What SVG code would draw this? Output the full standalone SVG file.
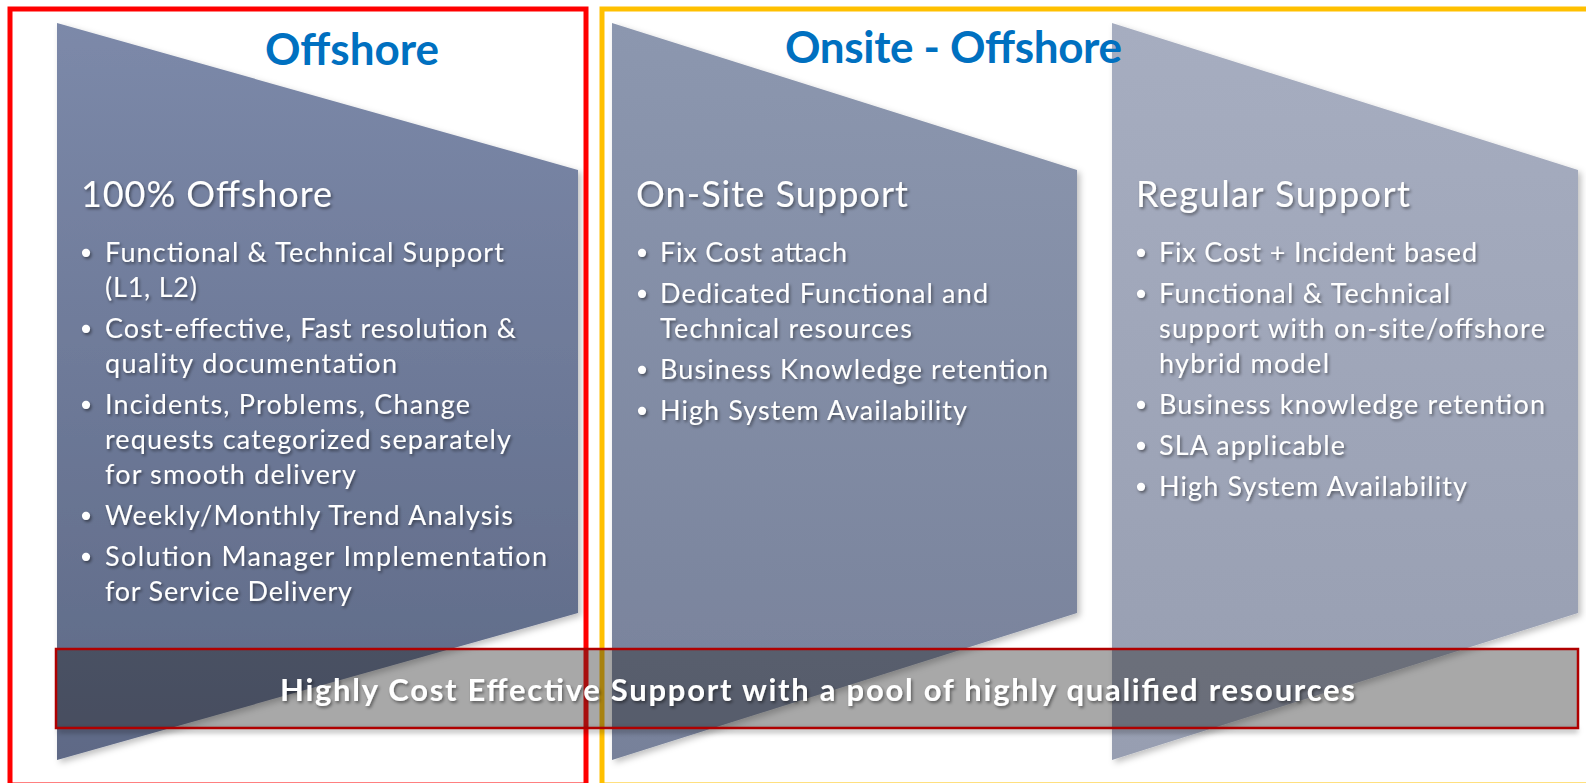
<svg xmlns="http://www.w3.org/2000/svg" width="1586" height="783" viewBox="0 0 1586 783">
  <defs>
    <linearGradient id="gLeft" x1="0" y1="0" x2="0" y2="1">
      <stop offset="0" stop-color="#7c89a9"/>
      <stop offset="1" stop-color="#5e6986"/>
    </linearGradient>
    <linearGradient id="gMid" x1="0" y1="0" x2="0" y2="1">
      <stop offset="0" stop-color="#8c97af"/>
      <stop offset="1" stop-color="#77819a"/>
    </linearGradient>
    <linearGradient id="gRight" x1="0" y1="0" x2="0" y2="1">
      <stop offset="0" stop-color="#a6adc0"/>
      <stop offset="1" stop-color="#979eb1"/>
    </linearGradient>
    <filter id="shapeShadow" x="-5%" y="-5%" width="115%" height="115%">
      <feDropShadow dx="3" dy="3" stdDeviation="3" flood-color="#000" flood-opacity="0.25"/>
    </filter>
    <filter id="textShadow" x="-5%" y="-20%" width="110%" height="150%">
      <feDropShadow dx="1.5" dy="2" stdDeviation="1.5" flood-color="#000" flood-opacity="0.45"/>
    </filter>
    <filter id="blur3" x="-5%" y="-100%" width="110%" height="300%">
      <feGaussianBlur stdDeviation="2.5"/>
    </filter>
  </defs>
  <style>
    .title { font-family: Lato, "Liberation Sans", sans-serif; font-weight: bold; font-size: 44px; fill: #0070c0; }
    .head { font-family: Lato, "Liberation Sans", sans-serif; font-size: 36px; fill: #ffffff; filter: url(#textShadow); }
    .body { font-family: Lato, "Liberation Sans", sans-serif; font-size: 27px; fill: #ffffff; filter: url(#textShadow); }
    .bul { font-family: "DejaVu Sans", sans-serif; font-size: 28px; fill: #ffffff; text-anchor: middle; filter: url(#textShadow); }
    .banner { font-family: Lato, "Liberation Sans", sans-serif; font-weight: bold; font-size: 31px; fill: #ffffff; filter: url(#textShadow); }
    .frame { fill: none; stroke-width: 5; }
  </style>
  <rect width="1586" height="783" fill="#ffffff"/>

  <g id="shapes">
    <polygon id="shape-offshore" points="57,23 578,170 578,613 57,760" fill="url(#gLeft)" filter="url(#shapeShadow)"/>
    <polygon id="shape-onsite" points="612,23 1077,170 1077,613 612,760" fill="url(#gMid)" filter="url(#shapeShadow)"/>
    <polygon id="shape-regular" points="1112,23 1578,170 1578,613 1112,760" fill="url(#gRight)" filter="url(#shapeShadow)"/>
  </g>

  <g id="frames">
    <rect id="frame-offshore" class="frame" x="10" y="9" width="576" height="776" stroke="#ff0000"/>
    <rect id="frame-onsite-offshore" class="frame" x="602" y="9" width="992" height="776" stroke="#ffc000"/>
  </g>

  <g id="titles">
    <text class="title" x="265" y="65" textLength="174">Offshore</text>
    <text class="title" x="785" y="63" textLength="337">Onsite - Offshore</text>
  </g>

  <g id="node-offshore">
    <text class="head" x="81" y="207" textLength="251">100% Offshore</text>
    <text class="bul" x="86" y="263">•</text>
    <text class="body" x="105" y="262" textLength="399">Functional &amp; Technical Support</text>
    <text class="body" x="105" y="297" textLength="92">(L1, L2)</text>
    <text class="bul" x="86" y="339">•</text>
    <text class="body" x="105" y="338" textLength="411">Cost-effective, Fast resolution &amp;</text>
    <text class="body" x="105" y="373" textLength="292">quality documentation</text>
    <text class="bul" x="86" y="415">•</text>
    <text class="body" x="105" y="414" textLength="365">Incidents, Problems, Change</text>
    <text class="body" x="105" y="449" textLength="406">requests categorized separately</text>
    <text class="body" x="105" y="484" textLength="251">for smooth delivery</text>
    <text class="bul" x="86" y="526">•</text>
    <text class="body" x="105" y="525" textLength="408">Weekly/Monthly Trend Analysis</text>
    <text class="bul" x="86" y="567">•</text>
    <text class="body" x="105" y="566" textLength="442">Solution Manager Implementation</text>
    <text class="body" x="105" y="601" textLength="247">for Service Delivery</text>
  </g>

  <g id="node-onsite">
    <text class="head" x="636" y="207" textLength="272">On-Site Support</text>
    <text class="bul" x="642" y="263">•</text>
    <text class="body" x="660" y="262" textLength="187">Fix Cost attach</text>
    <text class="bul" x="642" y="304">•</text>
    <text class="body" x="660" y="303" textLength="328">Dedicated Functional and</text>
    <text class="body" x="660" y="338" textLength="252">Technical resources</text>
    <text class="bul" x="642" y="380">•</text>
    <text class="body" x="660" y="379" textLength="388">Business Knowledge retention</text>
    <text class="bul" x="642" y="421">•</text>
    <text class="body" x="660" y="420" textLength="307">High System Availability</text>
  </g>

  <g id="node-regular">
    <text class="head" x="1136" y="207" textLength="274">Regular Support</text>
    <text class="bul" x="1141" y="263">•</text>
    <text class="body" x="1159" y="262" textLength="318">Fix Cost + Incident based</text>
    <text class="bul" x="1141" y="304">•</text>
    <text class="body" x="1159" y="303" textLength="291">Functional &amp; Technical</text>
    <text class="body" x="1159" y="338" textLength="386">support with on-site/offshore</text>
    <text class="body" x="1159" y="373" textLength="170">hybrid model</text>
    <text class="bul" x="1141" y="415">•</text>
    <text class="body" x="1159" y="414" textLength="386">Business knowledge retention</text>
    <text class="bul" x="1141" y="456">•</text>
    <text class="body" x="1159" y="455" textLength="186">SLA applicable</text>
    <text class="bul" x="1141" y="497">•</text>
    <text class="body" x="1159" y="496" textLength="308">High System Availability</text>
  </g>

  <g id="node-banner">
    <rect x="58" y="728" width="1520" height="5" fill="#000" fill-opacity="0.25" filter="url(#blur3)"/>
    <rect x="56" y="649" width="1522" height="79" fill="#262626" fill-opacity="0.4" stroke="#b00000" stroke-width="2.5"/>
    <text class="banner" x="280" y="701" textLength="1075">Highly Cost Effective Support with a pool of highly qualified resources</text>
  </g>

  <g id="connectors"/>
</svg>
